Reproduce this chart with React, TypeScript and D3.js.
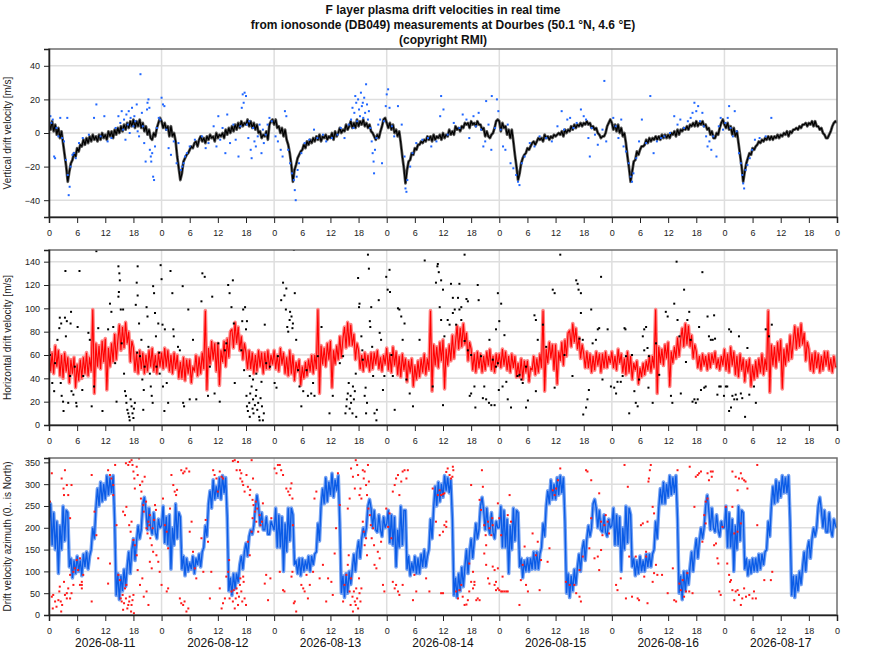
import React, { useEffect, useRef } from 'react';
import * as d3 from 'd3';

const titleLines = [
  'F layer plasma drift velocities in real time',
  'from ionosonde (DB049) measurements at Dourbes (50.1 °N, 4.6 °E)',
  '(copyright RMI)',
];
const dayLabels = ['2026-08-11', '2026-08-12', '2026-08-13', '2026-08-14', '2026-08-15', '2026-08-16', '2026-08-17'];

// line samples are every 20 minutes, starting 2026-08-11 00:00 UT (one row per day)
const lineStepHours = 1 / 3;

// vertical drift velocity [m/s]
const vzLine = [
  6, 2, 7, 1, 5, -1, 3, -3, 1, -6, -13, -20, -29, -23, -18, -16, -12, -14, -9, -11, -7, -8, -4, -7, -3, -6, -2, -5, -1, -4, -2, -5, -1, -4, 0, -3, -1, -4, 1, -2, 1, -3, 2, -1, 3, 0, 4, 1, 5, 2, 6, 3, 7, 4, 8, 3, 7, 4, 8, 3, 6, 1, 4, -1, 2, -3, -4, 0, -2, 3, 6, 9,
  7, 3, 6, 2, 4, -2, 4, -2, 0, -5, -14, -21, -28, -24, -17, -15, -13, -12, -10, -8, -9, -6, -5, -8, -4, -2, -5, -3, -6, -2, -4, -1, -3, -2, -5, 0, -3, -1, -2, 0, -3, 2, -1, 3, 0, 4, 1, 5, 2, 6, 3, 7, 4, 6, 5, 8, 4, 7, 3, 6, 2, 5, 0, 1, -3, -1, -2, 1, -4, 5, 7, 8,
  5, 8, 3, 4, 0, 3, -2, 2, -4, -7, -12, -19, -29, -22, -19, -15, -13, -11, -10, -7, -9, -5, -7, -4, -6, -3, -5, -2, -4, -1, -5, -2, -3, -1, -4, -2, -3, 0, -4, 1, -2, 0, 3, 0, 2, 1, 5, 2, 4, 7, 3, 6, 3, 8, 4, 7, 5, 8, 4, 6, 3, 5, 1, 0, -2, -4, -1, -3, 1, 4, 8, 9,
  6, 3, 6, 2, 5, 0, 2, -2, 1, -6, -14, -21, -30, -22, -17, -16, -12, -13, -9, -10, -7, -7, -5, -6, -4, -5, -2, -4, -2, -5, -1, -4, -2, -3, -1, -4, 0, -3, -1, -2, 2, -1, 1, -1, 4, 2, 3, 1, 4, 3, 6, 5, 6, 3, 7, 5, 6, 4, 7, 5, 5, 2, 3, -2, 1, -2, -3, -1, 0, 3, 7, 8,
  7, 1, 6, 3, 4, -1, 2, -3, 2, -5, -13, -20, -28, -24, -18, -15, -13, -12, -9, -10, -8, -6, -5, -7, -5, -3, -4, -3, -5, -1, -3, -2, -4, -2, -3, -1, -2, -1, 0, -1, 1, -2, 2, 0, 2, 1, 4, 2, 5, 3, 5, 4, 6, 4, 6, 5, 7, 5, 6, 3, 4, 2, 3, 0, -1, -3, -2, -2, 0, 4, 6, 8,
  6, 2, 5, 1, 5, 0, 3, -2, 0, -6, -14, -21, -29, -23, -17, -16, -11, -13, -10, -8, -8, -7, -4, -6, -3, -5, -3, -4, -2, -4, -2, -4, -1, -3, -1, -3, -1, -3, 0, -1, 1, -2, 2, -1, 2, 1, 3, 2, 4, 2, 5, 4, 6, 4, 7, 4, 6, 5, 7, 4, 5, 2, 3, -1, 1, -3, -3, 0, -1, 3, 6, 8,
  5, 3, 6, 2, 4, -1, 3, -2, 1, -6, -13, -20, -29, -23, -18, -15, -12, -13, -9, -10, -8, -7, -5, -6, -4, -5, -3, -4, -2, -4, -2, -4, -2, -3, -1, -3, -1, -2, 0, -1, 1, -2, 1, 0, 2, 2, 3, 2, 4, 3, 5, 5, 6, 4, 6, 5, 7, 4, 7, 4, 4, 2, 3, 0, -1, -3, -3, -1, 1, 4, 6, 7,
  6,
];

// single soundings: [hours since start, value]
const vzDots: [number, number][] = [
  [0.3, 10], [0.5, 6], [0.8, 8], [1.1, -14], [1.3, -15], [1.6, 3], [2.0, -2], [2.4, 9], [2.8, -3], [3.2, -5],
  [3.6, -16], [3.9, 9], [4.0, -25], [4.2, -37], [4.4, -32], [4.6, -20], [5.0, -13], [5.3, -12], [5.7, -15], [6.4, -6],
  [7.2, -3], [8.5, -1], [9.6, 9], [10.1, 17], [11.0, -2], [11.8, 10], [12.5, -5], [13.3, -3], [14.2, 3], [14.8, 10],
  [15.2, 6], [15.5, 13], [15.8, 2], [16.0, 8], [16.3, -4], [16.5, 11], [16.8, 5], [17.0, 13], [17.2, 0], [17.4, 9],
  [17.7, 15], [18.0, 4], [18.2, 10], [18.4, 7], [18.7, 17], [18.9, 1], [19.2, -2], [19.5, 35], [19.8, 12], [20.0, 4],
  [20.3, -6], [20.6, -17], [20.9, 14], [21.0, 18], [21.2, 20], [21.4, 15], [21.5, -10], [21.7, -14], [21.8, -17], [22.0, -12],
  [22.2, -26], [22.4, -28], [22.6, -8], [23.0, 3], [23.4, 9], [23.7, 8],
  [24.0, 21], [24.3, 17], [24.6, 16], [25.0, 2], [25.5, -9], [26.0, -13], [26.6, -5], [27.2, -18], [27.6, -6], [28.1, -22],
  [28.4, -20], [28.7, -18], [29.0, -14], [29.4, -12], [30.0, -8], [31.1, -4], [32.6, -2], [33.4, -9], [34.0, -6], [35.1, 4],
  [35.7, -8], [36.1, 10], [36.5, -4], [37.0, 3], [37.6, -12], [38.0, 11], [38.6, -6], [39.3, 5], [39.8, -4], [40.4, -14],
  [40.8, 4], [41.1, 15], [41.3, 23], [41.5, 18], [41.7, 24], [42.0, 22], [42.2, 5], [42.5, -3], [42.7, 7], [43.0, -10],
  [43.2, -15], [43.5, 3], [43.8, -5], [44.1, -8], [44.5, -2], [44.9, 5], [45.3, -12], [45.6, 2], [45.8, -6], [46.2, -1],
  [46.6, 5], [47.0, 9], [47.5, 7],
  [48.3, -2], [48.8, -5], [49.4, -10], [49.8, -14], [50.3, 13], [50.6, 10], [51.0, -10], [51.4, -18], [51.8, -24], [52.2, -28],
  [52.4, -34], [52.6, -40], [52.8, -26], [53.0, -22], [53.3, -18], [53.8, -12], [54.5, -6], [55.5, -4], [56.5, 2], [57.2, -3],
  [58.4, -1], [59.1, -5], [60.3, -3], [61.5, -1], [62.2, 3], [63.0, -3], [63.9, 5], [64.4, 8], [64.7, 15], [64.9, 3],
  [65.1, 12], [65.3, 22], [65.5, 18], [65.7, 7], [65.9, 20], [66.1, 14], [66.3, 10], [66.5, 24], [66.7, 16], [66.9, 18],
  [67.0, 9], [67.2, 21], [67.4, 12], [67.6, 29], [67.8, 17], [68.0, 8], [68.2, 13], [68.5, 3], [68.8, -5], [69.0, -12],
  [69.2, -17], [69.3, -24], [69.5, -10], [69.8, -3], [70.2, 5], [70.6, 8], [71.0, -18], [71.4, 7], [71.8, 16],
  [72.0, 23], [72.3, 26], [72.6, 15], [73.1, 4], [73.6, -2], [74.4, 16], [75.2, 5], [75.8, -14], [76.0, -33], [76.2, -35],
  [76.4, -28], [77.0, -20], [77.5, -12], [78.3, -6], [79.6, -4], [80.8, -3], [81.5, -8], [82.6, -5], [83.4, 10], [83.6, 22],
  [84.1, 14], [85.0, -1], [86.3, 6], [87.5, 3], [88.2, 11], [89.0, 8], [89.6, -3], [90.5, 10], [91.0, 4], [91.6, 12],
  [92.1, 2], [92.6, -8], [93.0, -5], [93.2, 19], [93.7, 5], [94.3, -10], [94.4, 22], [95.1, 3], [95.5, 20], [95.8, 13],
  [96.3, 2], [96.8, -8], [97.3, -10], [97.8, 5], [98.4, -18], [99.0, -21], [99.6, -25], [100.0, -29], [100.3, -31], [100.8, -18],
  [101.4, -14], [102.5, -6], [103.5, -8], [104.6, -2], [106.0, -3], [107.2, -5], [108.4, 4], [109.3, 13], [109.8, 2], [110.5, 8],
  [111.1, 9], [111.8, 3], [112.5, 6], [113.4, 14], [114.0, 10], [114.5, 8], [115.0, -3], [115.3, -14], [115.7, 3], [116.4, -1],
  [117.0, -7], [118.4, 31], [118.0, 2], [118.8, -5],
  [120.3, 9], [120.8, 4], [121.4, -3], [122.0, 8], [122.5, -8], [123.0, -11], [123.6, -18], [124.0, -26], [124.3, -29], [124.6, -24],
  [125.2, -15], [125.8, -5], [126.4, 8], [127.3, -6], [128.2, 22], [128.9, -12], [129.6, -5], [130.5, -3], [131.2, -2], [132.4, 0],
  [133.3, 10], [134.0, 5], [134.6, 8], [135.4, 3], [136.2, 7], [136.8, 9], [137.2, 12], [137.6, 18], [138.0, 13], [138.4, 16],
  [138.8, 7], [139.3, 12], [139.6, 4], [140.1, -2], [140.4, -8], [140.8, -5], [141.2, -10], [141.6, -2], [142.3, -14], [142.8, 4],
  [143.2, 9], [143.7, 2],
  [144.2, 6], [144.7, 9], [145.0, 16], [145.3, 3], [145.8, -2], [146.2, 13], [146.6, 1], [147.1, -12], [147.5, -18], [147.8, -25],
  [148.0, -30], [148.2, -33], [148.5, -22], [148.9, -19], [149.4, -15], [149.9, -10], [150.5, -4], [151.5, -3], [152.8, -2], [154.0, 9],
];

// horizontal drift velocity [m/s]
const vhLine = [
  66, 46, 62, 44, 68, 50, 64, 42, 60, 40, 62, 46, 58, 36, 56, 44, 58, 32, 52, 38, 56, 40, 58, 44, 62, 42, 58, 46, 99, 27, 70, 50, 68, 48, 72, 54, 74, 30, 66, 50, 70, 54, 78, 56, 72, 86, 64, 84, 66, 88, 70, 80, 54, 72, 66, 46, 62, 44, 64, 48, 62, 44, 60, 46, 64, 50, 66, 46, 60, 44, 62, 50,
  62, 48, 66, 50, 64, 46, 60, 44, 62, 48, 60, 40, 54, 40, 58, 38, 56, 44, 56, 36, 50, 46, 60, 42, 58, 44, 62, 48, 98, 30, 66, 52, 72, 56, 70, 46, 70, 34, 64, 54, 72, 50, 74, 58, 80, 82, 66, 88, 70, 84, 64, 76, 56, 70, 62, 48, 64, 48, 62, 44, 60, 46, 64, 50, 62, 44, 62, 48, 64, 48, 60, 52,
  64, 48, 60, 46, 66, 52, 62, 44, 58, 42, 64, 44, 60, 38, 54, 46, 56, 34, 50, 40, 54, 42, 56, 46, 60, 44, 60, 48, 99, 27, 68, 52, 66, 50, 70, 56, 72, 32, 64, 52, 68, 56, 76, 58, 74, 84, 66, 88, 68, 86, 68, 78, 56, 70, 64, 48, 60, 46, 62, 50, 60, 46, 62, 48, 62, 52, 64, 48, 58, 46, 60, 52,
  66, 47, 61, 45, 67, 51, 63, 43, 59, 41, 61, 47, 57, 37, 55, 45, 57, 33, 51, 39, 55, 41, 57, 45, 61, 43, 57, 47, 98, 29, 69, 51, 67, 49, 71, 55, 73, 31, 65, 51, 69, 55, 77, 57, 71, 85, 65, 83, 67, 87, 69, 79, 55, 71, 65, 47, 61, 45, 63, 49, 61, 45, 59, 47, 63, 51, 65, 47, 59, 45, 61, 51,
  61, 49, 65, 51, 63, 47, 59, 45, 61, 49, 59, 41, 53, 41, 57, 39, 55, 45, 55, 37, 49, 47, 59, 43, 57, 45, 61, 49, 98, 29, 65, 53, 71, 57, 69, 47, 69, 35, 63, 55, 71, 51, 73, 59, 79, 81, 67, 87, 71, 83, 65, 75, 57, 69, 61, 49, 63, 49, 61, 45, 59, 47, 63, 51, 61, 45, 61, 49, 63, 49, 59, 53,
  63, 49, 59, 47, 65, 53, 61, 45, 57, 43, 63, 45, 59, 39, 53, 47, 55, 35, 49, 41, 53, 43, 55, 47, 59, 45, 59, 49, 99, 27, 67, 53, 65, 51, 69, 57, 71, 33, 63, 53, 67, 57, 75, 59, 73, 83, 67, 87, 69, 85, 67, 77, 57, 69, 63, 49, 59, 47, 61, 51, 59, 47, 61, 49, 61, 53, 63, 49, 57, 47, 59, 51,
  65, 47, 61, 45, 67, 51, 63, 43, 59, 41, 61, 47, 57, 37, 55, 45, 57, 33, 51, 39, 55, 41, 57, 45, 61, 43, 57, 47, 98, 28, 69, 51, 67, 49, 71, 55, 73, 31, 65, 51, 69, 55, 77, 57, 71, 85, 65, 83, 67, 87, 69, 79, 55, 71, 65, 47, 61, 45, 63, 49, 61, 45, 59, 47, 63, 51, 63, 47, 57, 45, 59, 50,
  50,
];

const vhDots: [number, number][] = [
  [0.2, 60], [0.7, 36], [1.1, 29], [1.3, 53], [1.8, 73], [2.2, 83], [2.3, 92], [2.6, 87], [2.5, 36], [2.7, 25],
  [3.0, 20], [3.1, 12], [3.4, 92], [3.5, 132], [3.6, 76], [3.8, 89], [4.1, 19], [4.5, 42], [4.6, 87], [4.7, 97],
  [4.8, 29], [5.2, 26], [5.5, 50], [5.8, 19], [5.9, 16], [6.1, 84], [6.5, 132], [7.1, 30], [7.3, 42], [8.4, 79],
  [8.7, 73], [9.1, 16], [9.6, 33], [10.1, 149], [10.5, 83], [11.4, 12], [12.6, 82], [13.0, 104], [13.3, 97], [13.7, 84],
  [14.1, 53], [14.4, 20], [14.8, 136], [15.0, 130], [15.1, 124], [14.9, 114], [14.8, 110], [15.3, 99], [15.5, 70], [15.8, 99],
  [16.0, 44], [16.2, 29], [16.4, 25], [16.5, 19], [16.7, 13], [16.9, 10], [17.1, 7], [17.2, 4], [17.4, 22], [17.6, 16],
  [17.8, 10], [18.0, 6], [18.1, 14], [18.3, 19], [18.5, 103], [18.7, 122], [18.9, 136], [18.9, 111], [18.8, 62], [19.2, 87],
  [19.4, 59], [19.7, 73], [19.9, 39], [20.1, 13], [20.2, 30], [20.4, 50], [20.8, 101], [21.0, 93], [21.2, 67], [21.5, 44],
  [21.7, 33], [21.9, 25], [22.1, 19], [22.2, 119], [22.4, 113], [22.6, 96], [22.8, 76], [22.9, 50], [23.3, 87], [23.5, 62],
  [23.6, 44], [23.8, 137],
  [24.0, 125], [24.2, 86], [24.3, 33], [24.6, 12], [24.7, 82], [25.1, 36], [25.4, 19], [25.9, 132], [26.3, 113], [26.5, 82],
  [26.6, 76], [27.5, 67], [27.9, 64], [28.5, 119], [28.6, 19], [28.8, 16], [29.7, 99], [30.0, 22], [30.7, 73], [31.4, 22],
  [32.5, 106], [32.7, 130], [33.2, 127], [33.9, 25], [34.3, 50], [34.8, 110], [35.3, 27], [36.1, 70], [36.4, 20], [37.5, 64],
  [37.8, 70], [38.2, 120], [38.5, 113], [38.9, 101], [39.2, 124], [39.4, 87], [39.6, 36], [41.0, 64], [41.2, 89], [41.4, 99],
  [41.6, 47], [41.8, 101], [42.0, 82], [42.1, 25], [42.2, 16], [42.2, 89], [42.4, 12], [42.7, 19], [42.8, 7], [42.8, 42],
  [42.9, 27], [43.2, 33], [43.4, 14], [43.5, 22], [43.5, 39], [43.6, 10], [43.9, 17], [44.1, 25], [44.2, 30], [44.2, 44],
  [44.4, 13], [44.6, 19], [44.8, 7], [44.9, 4], [45.1, 23], [45.3, 37], [45.4, 16], [45.6, 4], [45.8, 10], [46.0, 86],
  [46.3, 53], [47.1, 50],
  [48.1, 36], [48.5, 32], [48.8, 59], [49.5, 107], [49.9, 122], [50.2, 111], [50.6, 117], [50.5, 99], [50.8, 84], [51.0, 80],
  [51.3, 90], [51.4, 97], [51.7, 93], [51.9, 83], [52.0, 87], [52.2, 150], [52.4, 113], [52.7, 73], [53.1, 47], [53.4, 33],
  [53.8, 16], [54.2, 29], [54.9, 47], [55.2, 25], [55.9, 27], [56.3, 36], [56.6, 25], [57.3, 59], [58.1, 84], [59.8, 10],
  [60.5, 25], [62.0, 53], [62.7, 59], [63.2, 10], [63.4, 16], [63.5, 22], [63.7, 27], [63.9, 36], [64.1, 14], [64.3, 25],
  [64.4, 19], [64.7, 10], [64.8, 33], [65.0, 22], [65.2, 29], [65.4, 44], [65.5, 7], [65.9, 126], [66.1, 101], [66.2, 104],
  [66.6, 76], [66.8, 64], [66.9, 56], [67.3, 25], [67.5, 32], [67.6, 10], [67.8, 19], [68.0, 146], [68.2, 134], [68.4, 89],
  [68.5, 84], [68.7, 101], [68.9, 67], [69.1, 42], [69.4, 10], [69.8, 4], [69.9, 13], [70.3, 107], [70.5, 79], [70.8, 73],
  [71.2, 30], [71.5, 42], [71.9, 127],
  [72.2, 116], [72.6, 133], [72.7, 114], [73.0, 60], [73.3, 42], [73.7, 13], [74.4, 100], [74.7, 99], [75.1, 93], [75.4, 73],
  [75.8, 87], [76.2, 39], [76.9, 27], [77.6, 16], [79.0, 73], [80.1, 141], [81.8, 33], [82.5, 122], [82.8, 136], [82.9, 138],
  [83.1, 131], [83.3, 101], [83.6, 90], [83.6, 124], [84.0, 116], [84.0, 17], [84.3, 76], [85.0, 90], [85.4, 86], [85.7, 121],
  [86.1, 96], [86.1, 109], [86.5, 99], [86.8, 86], [87.2, 109], [87.5, 121], [87.5, 99], [87.9, 90], [87.9, 101], [88.6, 146],
  [88.6, 72], [89.0, 108], [89.3, 106], [89.3, 64], [89.7, 25], [90.0, 60], [90.0, 27], [90.7, 33], [90.9, 15], [91.4, 120],
  [91.6, 107], [92.1, 59], [92.5, 23], [92.8, 33], [93.2, 22], [93.8, 19], [93.9, 73], [94.3, 17], [94.6, 56], [95.0, 17],
  [95.3, 82], [95.3, 50], [95.7, 113], [95.7, 53], [95.9, 30],
  [96.0, 89], [96.4, 104], [96.7, 33], [97.1, 77], [97.5, 37], [97.8, 22], [98.5, 15], [99.9, 42], [100.3, 43], [100.7, 39],
  [101.0, 36], [101.7, 15], [101.7, 50], [102.1, 21], [103.5, 94], [103.8, 90], [103.8, 29], [104.2, 73], [105.3, 86], [106.0, 67],
  [107.4, 116], [107.8, 113], [107.8, 32], [109.0, 146], [109.9, 60], [111.6, 42], [112.4, 124], [112.7, 121], [112.9, 116], [113.4, 113],
  [113.1, 74], [113.4, 96], [113.8, 73], [113.9, 9], [114.5, 15], [114.8, 22], [115.1, 30], [115.6, 99], [115.9, 70], [116.6, 73],
  [117.0, 82], [117.3, 83], [117.7, 127], [118.0, 39], [119.1, 82], [119.8, 33],
  [120.5, 32], [120.9, 27], [121.2, 37], [121.9, 37], [122.3, 42], [122.7, 83], [122.9, 82], [123.0, 59], [123.7, 10], [124.3, 60],
  [124.8, 29], [125.1, 19], [125.5, 16], [125.8, 39], [126.6, 76], [126.9, 82], [127.3, 84], [126.9, 64], [127.6, 66], [127.9, 59],
  [127.8, 32], [128.7, 19], [129.4, 70], [130.1, 43], [131.5, 97], [131.9, 93], [132.6, 25], [132.9, 19], [133.3, 104], [133.8, 140],
  [134.0, 90], [134.4, 76], [134.7, 27], [135.4, 116], [135.8, 54], [136.1, 90], [136.5, 97], [136.8, 73], [137.2, 20], [137.6, 22],
  [137.9, 19], [138.3, 22], [138.6, 84], [139.0, 30], [139.3, 131], [139.7, 32], [140.0, 33], [140.4, 93], [140.7, 76], [141.1, 73],
  [141.5, 73], [141.8, 94], [142.0, 74], [142.5, 26], [142.9, 33], [143.2, 33], [143.9, 25],
  [144.3, 33], [144.6, 33], [145.0, 82], [145.4, 80], [145.0, 12], [145.4, 15], [145.7, 25], [146.1, 22], [146.4, 26], [146.7, 22],
  [147.1, 76], [147.5, 27], [147.8, 23], [148.4, 7], [148.9, 66], [149.3, 26], [150.3, 33], [150.7, 19], [152.8, 82], [153.5, 76],
  [154.1, 86],
];

// drift velocity azimuth [deg, 0 is North]
const azLine = [
  200, 255, 160, 235, 150, 215, 95, 205, 150, 250, 170, 240, 235, 110, 130, 85, 125, 95, 135, 100, 125, 90, 140, 110, 145, 105, 135, 150, 200, 175, 245, 290, 250, 305, 260, 300, 265, 320, 275, 315, 280, 320, 215, 45, 95, 35, 90, 55, 105, 65, 110, 145, 95, 150, 175, 125, 170, 205, 175, 195, 255, 270, 240, 195, 245, 200, 185, 235, 190, 175, 220, 200,
  205, 250, 165, 225, 160, 230, 105, 200, 160, 255, 175, 235, 225, 105, 135, 90, 130, 100, 120, 105, 135, 95, 130, 115, 140, 110, 145, 155, 205, 180, 255, 285, 245, 310, 265, 295, 270, 315, 265, 320, 280, 315, 225, 55, 85, 45, 95, 60, 95, 75, 115, 135, 105, 145, 165, 135, 180, 195, 185, 205, 245, 275, 250, 205, 235, 195, 195, 225, 185, 185, 215, 205,
  195, 245, 155, 230, 155, 225, 100, 210, 145, 245, 170, 245, 230, 115, 125, 95, 130, 90, 130, 100, 125, 105, 135, 100, 135, 115, 140, 145, 210, 170, 250, 290, 255, 315, 260, 305, 275, 325, 270, 310, 285, 320, 210, 50, 90, 40, 95, 50, 100, 70, 105, 140, 100, 145, 170, 130, 175, 200, 180, 200, 250, 265, 245, 200, 240, 195, 190, 230, 195, 180, 225, 200,
  210, 240, 165, 230, 160, 225, 110, 195, 155, 250, 160, 240, 240, 105, 135, 90, 120, 100, 135, 95, 130, 95, 140, 110, 150, 110, 135, 150, 220, 175, 245, 295, 250, 305, 260, 300, 270, 320, 285, 315, 280, 310, 220, 45, 85, 40, 95, 55, 110, 65, 110, 150, 95, 145, 175, 130, 170, 210, 175, 195, 250, 270, 240, 195, 245, 200, 185, 235, 190, 175, 215, 200,
  200, 250, 155, 240, 155, 220, 95, 205, 150, 245, 170, 240, 235, 110, 130, 85, 125, 100, 130, 100, 130, 105, 145, 105, 145, 105, 140, 155, 210, 180, 250, 285, 255, 310, 265, 300, 265, 315, 275, 320, 280, 315, 215, 50, 95, 40, 90, 55, 105, 70, 110, 140, 100, 150, 170, 125, 175, 205, 180, 200, 255, 265, 245, 200, 240, 195, 190, 230, 190, 180, 220, 200,
  205, 245, 160, 230, 160, 225, 100, 200, 150, 250, 165, 245, 230, 110, 130, 90, 125, 95, 135, 100, 125, 100, 140, 110, 140, 110, 140, 150, 215, 175, 245, 290, 255, 305, 255, 300, 270, 320, 275, 315, 280, 320, 220, 50, 90, 35, 100, 55, 100, 70, 110, 145, 100, 145, 175, 130, 170, 200, 175, 200, 250, 275, 240, 195, 245, 200, 190, 230, 195, 180, 215, 200,
  200, 250, 155, 235, 155, 220, 100, 205, 150, 250, 170, 240, 235, 105, 130, 90, 125, 95, 130, 100, 130, 100, 140, 105, 140, 115, 145, 150, 215, 180, 250, 295, 255, 310, 260, 305, 270, 320, 280, 315, 280, 320, 215, 45, 90, 40, 90, 55, 100, 70, 110, 145, 100, 150, 170, 130, 175, 200, 180, 200, 250, 270, 240, 200, 240, 190, 190, 235, 195, 180, 220, 205,
  200,
];

const azDots: [number, number][] = [
  [0.6, 325], [0.2, 260], [0.6, 42], [0.9, 46], [1.3, 31], [0.8, 15], [1.6, 19], [2.0, 34], [2.3, 65], [2.2, 54],
  [2.5, 31], [2.8, 23], [3.4, 46], [2.6, 8], [3.8, 50], [4.1, 61], [4.5, 38], [4.8, 50], [5.2, 69], [3.2, 76],
  [2.7, 313], [3.1, 290], [3.4, 332], [3.2, 275], [3.8, 298], [4.1, 275], [4.5, 222], [4.8, 298], [3.8, 38], [4.5, 92],
  [5.2, 99], [5.5, 107], [5.9, 126], [6.2, 103], [6.6, 130], [7.0, 76], [7.3, 92], [7.0, 69], [7.0, 61], [6.6, 69],
  [9.1, 31], [9.1, 321], [9.7, 237], [10.1, 183], [10.5, 130], [12.6, 332], [13.0, 321], [13.3, 313], [13.7, 298], [14.1, 344],
  [13.0, 118], [12.6, 72], [13.7, 275], [14.4, 206], [14.8, 92], [15.1, 80], [15.3, 38], [15.5, 31], [15.7, 46], [15.8, 12],
  [16.0, 27], [16.2, 61], [16.4, 38], [16.5, 69], [16.7, 15], [16.9, 23], [17.1, 31], [17.2, 42], [17.5, 8], [17.6, 23],
  [17.8, 34], [18.0, 46], [18.1, 4], [15.8, 237], [16.2, 229], [16.4, 348], [16.9, 344], [17.2, 351], [17.6, 355], [17.8, 344],
  [18.0, 329], [18.2, 313], [18.3, 290], [18.7, 340], [18.9, 321], [16.5, 248], [17.1, 206], [17.4, 191], [17.6, 214], [18.0, 172],
  [18.3, 160], [18.7, 137], [18.9, 103], [19.2, 359], [19.4, 298], [19.6, 267], [19.7, 283], [19.9, 306], [20.1, 252], [20.2, 237],
  [20.4, 317], [20.7, 260], [20.8, 199], [21.0, 187], [21.2, 214], [21.4, 206], [21.5, 229], [21.6, 176], [21.9, 160], [22.1, 199],
  [22.2, 145], [22.4, 218], [22.6, 252], [22.8, 241], [22.9, 137], [19.4, 69], [19.9, 84], [20.2, 42], [20.8, 54], [21.2, 23],
  [21.5, 122], [21.9, 107], [23.3, 122], [23.6, 99], [24.0, 69],
  [24.3, 267], [24.7, 206], [25.1, 191], [25.4, 153], [25.8, 244], [26.1, 321], [26.5, 298], [26.8, 283], [27.1, 275], [27.3, 287],
  [25.4, 61], [25.1, 54], [27.9, 38], [28.2, 27], [28.6, 23], [28.9, 31], [29.3, 8], [29.7, 15], [28.2, 332], [28.6, 325],
  [28.9, 329], [29.3, 336], [29.9, 329], [30.0, 191], [30.4, 214], [30.7, 145], [31.1, 107], [31.4, 84], [32.5, 176], [32.9, 99],
  [33.4, 218], [33.9, 168], [34.3, 38], [34.6, 99], [35.0, 332], [35.3, 321], [35.7, 313], [36.0, 283], [36.4, 329], [36.8, 317],
  [37.1, 313], [36.4, 61], [36.8, 15], [37.1, 27], [37.5, 38], [37.8, 88], [38.2, 99], [38.4, 126], [38.5, 38], [38.9, 54],
  [39.2, 31], [39.4, 57], [39.6, 15], [39.8, 38], [40.0, 61], [40.1, 50], [40.3, 23], [40.5, 42], [40.7, 69], [40.8, 84],
  [41.0, 54], [41.2, 31], [41.4, 88], [41.5, 76], [41.7, 38], [42.0, 23], [39.2, 353], [39.6, 355], [40.0, 332], [40.3, 351],
  [40.7, 332], [40.8, 313], [41.0, 325], [41.2, 306], [41.4, 298], [41.7, 283], [42.1, 321], [42.4, 294], [42.8, 275], [42.9, 287],
  [43.2, 355], [43.4, 264], [43.5, 313], [42.4, 168], [42.8, 137], [43.2, 191], [43.4, 222], [43.6, 252], [43.9, 237], [44.1, 260],
  [44.2, 214], [44.4, 244], [44.6, 191], [44.9, 229], [45.1, 206], [45.4, 214], [45.6, 256], [46.0, 72], [46.3, 92], [46.7, 34],
  [47.2, 84], [47.4, 222],
  [48.1, 336], [48.5, 325], [48.8, 344], [49.2, 344], [49.5, 332], [49.9, 321], [50.6, 290], [51.0, 283], [49.2, 99], [49.9, 57],
  [50.2, 54], [51.7, 88], [51.9, 99], [52.2, 27], [52.4, 31], [52.7, 8], [51.3, 275], [51.5, 290], [51.7, 302], [51.9, 267],
  [52.0, 206], [53.8, 69], [54.2, 61], [54.5, 54], [54.9, 92], [55.2, 38], [55.6, 69], [56.3, 99], [56.6, 267], [57.0, 283],
  [57.7, 84], [58.4, 115], [59.1, 31], [59.5, 84], [60.2, 76], [60.5, 46], [60.9, 141], [61.2, 199], [61.6, 325], [62.0, 252],
  [62.7, 31], [63.0, 69], [63.4, 92], [63.7, 115], [63.9, 137], [64.1, 54], [64.3, 23], [64.4, 84], [64.7, 42], [64.8, 8],
  [65.0, 54], [65.2, 31], [65.4, 23], [65.5, 61], [65.7, 38], [65.9, 15], [66.1, 84], [66.2, 50], [66.4, 31], [66.6, 61],
  [63.7, 244], [64.1, 267], [64.4, 336], [64.8, 317], [65.2, 290], [65.4, 355], [65.7, 344], [65.9, 321], [66.2, 275], [66.4, 290],
  [66.6, 267], [66.9, 332], [67.1, 313], [67.3, 329], [67.6, 298], [67.8, 275], [68.0, 344], [68.2, 306], [66.9, 214], [67.1, 191],
  [67.3, 160], [67.6, 176], [67.8, 137], [68.1, 244], [68.4, 229], [68.6, 206], [68.8, 176], [69.1, 199], [69.3, 160], [69.4, 115],
  [69.8, 107], [70.1, 145], [70.5, 130], [70.8, 168], [71.2, 69], [71.5, 54], [71.9, 244],
  [72.3, 202], [72.6, 233], [73.0, 176], [73.3, 283], [73.7, 298], [74.0, 313], [74.4, 321], [74.7, 275], [75.1, 306], [75.4, 329],
  [75.8, 332], [76.2, 313], [76.5, 332], [73.3, 76], [73.7, 61], [74.0, 69], [74.4, 54], [74.7, 46], [75.4, 69], [77.6, 34],
  [77.9, 92], [78.3, 54], [80.4, 84], [81.1, 54], [81.8, 290], [82.5, 214], [82.9, 275], [83.3, 183], [83.6, 50], [84.0, 191],
  [84.3, 206], [83.3, 286], [83.6, 275], [84.0, 277], [84.3, 279], [84.7, 328], [85.0, 336], [85.4, 321], [85.7, 313], [86.1, 340],
  [86.2, 332], [86.0, 317], [84.7, 214], [84.7, 202], [84.0, 50], [86.8, 54], [87.2, 38], [87.5, 57], [87.9, 69], [88.2, 42],
  [88.6, 23], [89.0, 24], [89.3, 34], [89.6, 54], [90.0, 76], [90.4, 61], [90.7, 69], [91.1, 34], [91.4, 38], [91.8, 34],
  [89.6, 118], [90.0, 298], [90.4, 99], [90.7, 76], [91.8, 264], [92.1, 241], [92.5, 294], [92.3, 332], [92.8, 206], [93.1, 183],
  [93.2, 160], [93.6, 214], [93.9, 199], [94.3, 183], [94.5, 222], [94.6, 206], [92.8, 141], [93.2, 115], [93.6, 84], [93.9, 72],
  [94.6, 111], [95.0, 103], [95.3, 76], [95.7, 107], [95.0, 69], [95.3, 57], [95.7, 61],
  [96.0, 57], [96.4, 54], [96.7, 54], [97.5, 54], [97.8, 54], [95.7, 256], [96.0, 222], [96.4, 183], [96.7, 88], [97.1, 54],
  [97.8, 229], [98.2, 275], [98.5, 214], [100.3, 23], [100.6, 80], [101.0, 115], [101.4, 157], [101.7, 69], [102.1, 54], [103.1, 187],
  [103.8, 137], [104.2, 168], [104.6, 57], [104.9, 126], [106.3, 122], [106.7, 153], [107.4, 286], [107.8, 275], [108.1, 290], [108.5, 309],
  [109.0, 336], [110.2, 76], [111.0, 69], [112.0, 69], [112.4, 50], [113.1, 42], [113.4, 31], [113.1, 103], [113.8, 134], [114.5, 332],
  [114.8, 329], [115.6, 309], [115.2, 153], [115.6, 222], [116.3, 130], [117.0, 134], [117.3, 279], [117.7, 214], [117.3, 103], [117.7, 149],
  [118.0, 183], [118.4, 206], [118.7, 229], [119.1, 214], [119.4, 187],
  [120.9, 69], [121.2, 57], [121.9, 84], [122.7, 344], [123.0, 38], [123.4, 294], [123.7, 134], [124.3, 42], [125.1, 134], [125.5, 38],
  [125.8, 34], [126.2, 206], [126.6, 210], [126.9, 88], [127.3, 134], [127.6, 214], [127.6, 27], [127.3, 145], [127.8, 306], [127.9, 313],
  [128.1, 332], [128.3, 344], [128.7, 248], [129.0, 233], [129.4, 115], [128.7, 76], [129.0, 96], [129.7, 92], [130.7, 92], [131.9, 50],
  [133.0, 107], [133.3, 34], [133.7, 31], [134.0, 332], [134.4, 72], [134.7, 57], [135.1, 80], [135.4, 42], [135.8, 54], [136.1, 96],
  [136.5, 54], [136.6, 340], [137.2, 50], [137.6, 248], [137.9, 317], [138.3, 321], [138.6, 325], [139.0, 329], [139.3, 168], [139.7, 229],
  [140.0, 260], [140.4, 267], [140.0, 210], [140.4, 325], [140.7, 309], [141.1, 329], [141.3, 317], [141.5, 329], [141.8, 160], [142.2, 164],
  [142.5, 130], [142.7, 118], [142.9, 54], [143.2, 46], [143.6, 202],
  [144.3, 248], [144.6, 118], [145.0, 92], [145.2, 76], [145.4, 80], [145.7, 57], [146.1, 34], [146.4, 54], [146.8, 57], [147.1, 46],
  [147.5, 23], [147.8, 38], [148.2, 61], [148.6, 42], [149.3, 46], [150.0, 38], [150.3, 54], [150.7, 38], [145.7, 329], [146.4, 317],
  [147.1, 313], [147.5, 325], [147.8, 313], [148.2, 309], [148.5, 306], [148.9, 290], [146.8, 286], [145.7, 248], [146.1, 187], [146.8, 191],
  [147.5, 210], [151.0, 206], [151.0, 344], [152.5, 80], [153.9, 80], [154.2, 99],
];

const vzTicks = [-40, -20, 0, 20, 40];
const vhTicks = [0, 20, 40, 60, 80, 100, 120, 140];
const azTicks = [0, 50, 100, 150, 200, 250, 300, 350];

const FONT = '"Liberation Sans", Arial, Helvetica, sans-serif';

const App: React.FC = () => {
  const ref = useRef<SVGSVGElement | null>(null);

  useEffect(() => {
    if (!ref.current) return;
    const svg = d3.select(ref.current);
    svg.selectAll('*').remove();

    const t0 = Date.UTC(2026, 7, 11);
    const x = d3.scaleUtc()
      .domain([new Date(t0), new Date(t0 + 7 * 86400000)])
      .range([49, 837]);
    const at = (h: number) => x(new Date(t0 + h * 3600000));

    // title
    svg.append('g')
      .selectAll('text')
      .data(titleLines)
      .enter().append('text')
      .attr('x', 443)
      .attr('y', (_, i) => 14 + i * 15)
      .attr('text-anchor', 'middle')
      .style('font-family', FONT)
      .style('font-size', '12px')
      .style('font-weight', 'bold')
      .style('fill', '#111')
      .text((d) => d);

    const panels = [
      {
        top: 49, bottom: 217, domain: [-50, 50], ticks: vzTicks,
        label: 'Vertical drift velocity [m/s]',
        line: vzLine, dots: vzDots, under: '#5a5a5a', underW: 2.8, stroke: '#000', strokeW: 1.2, dot: '#1f66ff',
      },
      {
        top: 250, bottom: 425, domain: [0, 150], ticks: vhTicks,
        label: 'Horizontal drift velocity [m/s]',
        line: vhLine, dots: vhDots, under: '#ff8585', underW: 3.6, stroke: '#ff0000', strokeW: 1.1, dot: '#000',
      },
      {
        top: 458, bottom: 615, domain: [0, 360], ticks: azTicks,
        label: 'Drift velocity azimuth (0.. is North)',
        line: azLine, dots: azDots, under: '#72a0f2', underW: 3.6, stroke: '#0a5be6', strokeW: 1.3, dot: '#ff1a1a',
      },
    ];

    panels.forEach((p) => {
      const y = d3.scaleLinear().domain(p.domain).range([p.bottom, p.top]);
      const g = svg.append('g');

      // grid
      g.append('g')
        .selectAll('line')
        .data(p.ticks)
        .enter().append('line')
        .attr('x1', 49).attr('x2', 837)
        .attr('y1', (d) => y(d)).attr('y2', (d) => y(d))
        .attr('stroke', '#dedede')
        .attr('stroke-width', 1.5);
      g.append('g')
        .selectAll('line')
        .data(d3.range(1, 7))
        .enter().append('line')
        .attr('x1', (d) => at(d * 24)).attr('x2', (d) => at(d * 24))
        .attr('y1', p.top).attr('y2', p.bottom)
        .attr('stroke', '#dedede')
        .attr('stroke-width', 1.5);

      const clipId = `clip-${p.top}`;
      svg.append('clipPath').attr('id', clipId)
        .append('rect')
        .attr('x', 49).attr('y', p.top)
        .attr('width', 788).attr('height', p.bottom - p.top);
      const plot = g.append('g').attr('clip-path', `url(#${clipId})`);

      const line = d3.line<number>()
        .x((_, i) => at(i * lineStepHours))
        .y((d) => y(d));

      plot.append('path')
        .datum(p.line)
        .attr('d', line)
        .attr('fill', 'none')
        .attr('stroke', p.under)
        .attr('stroke-width', p.underW)
        .attr('stroke-linejoin', 'round');
      plot.append('path')
        .datum(p.line)
        .attr('d', line)
        .attr('fill', 'none')
        .attr('stroke', p.stroke)
        .attr('stroke-width', p.strokeW)
        .attr('stroke-linejoin', 'bevel');

      plot.append('g')
        .selectAll('rect')
        .data(p.dots)
        .enter().append('rect')
        .attr('x', (d) => at(d[0]) - 1)
        .attr('y', (d) => y(d[1]) - 1)
        .attr('width', 2)
        .attr('height', 2)
        .attr('fill', p.dot);

      // frame
      g.append('rect')
        .attr('x', 49).attr('y', p.top)
        .attr('width', 788).attr('height', p.bottom - p.top)
        .attr('fill', 'none')
        .attr('stroke', '#6e6e6e')
        .attr('stroke-width', 1.5);

      // y axis
      const ya = g.append('g')
        .attr('transform', 'translate(49,0)')
        .call(d3.axisLeft(y).tickValues(p.ticks).tickSize(5).tickPadding(4));
      ya.select('.domain').attr('stroke', '#222').attr('stroke-width', 1.5);
      ya.selectAll('line').attr('stroke', '#222');
      ya.selectAll('text')
        .style('font-family', FONT)
        .style('font-size', '9px')
        .style('fill', '#222');

      // x axis
      const xa = g.append('g')
        .attr('transform', `translate(0,${p.bottom})`)
        .call(
          d3.axisBottom(x)
            .ticks(d3.utcHour.every(6))
            .tickSize(6)
            .tickPadding(7)
            .tickFormat((d) => d3.utcFormat('%-H')(d as Date)),
        );
      xa.select('.domain').attr('stroke', '#222').attr('stroke-width', 1.5);
      xa.selectAll('line').attr('stroke', '#222');
      xa.selectAll('text')
        .style('font-family', FONT)
        .style('font-size', '9px')
        .style('fill', '#222');

      // y label
      g.append('text')
        .attr('transform', `translate(11,${(p.top + p.bottom) / 2}) rotate(-90)`)
        .attr('text-anchor', 'middle')
        .style('font-family', FONT)
        .style('font-size', '10px')
        .style('fill', '#222')
        .text(p.label);
    });

    // date labels under the last panel
    svg.append('g')
      .selectAll('text')
      .data(dayLabels)
      .enter().append('text')
      .attr('x', (_, i) => at(i * 24 + 12))
      .attr('y', 647)
      .attr('text-anchor', 'middle')
      .style('font-family', FONT)
      .style('font-size', '12px')
      .style('fill', '#111')
      .text((d) => d);
  }, []);

  return (
    <svg
      ref={ref}
      width={886}
      height={664}
      style={{ position: 'absolute', left: 0, top: 0, background: '#fff' }}
    />
  );
};

export default App;
